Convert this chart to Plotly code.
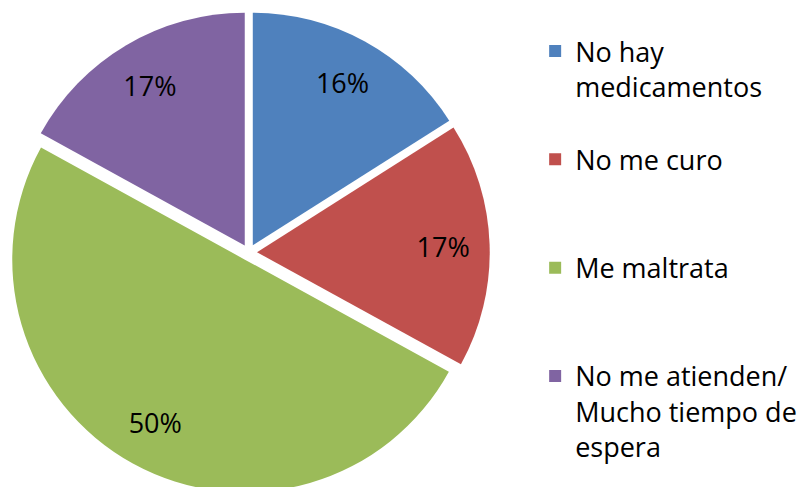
import plotly.graph_objects as go

# categories and values
labels = ["No hay<br>medicamentos", "No me curo", "Me maltrata",
          "No me atienden/<br>Mucho tiempo de<br>espera"]
values = [16, 17, 50, 17]
colors = ["#4F81BD", "#C0504D", "#9BBB59", "#8064A2"]

# pad legend entries to 3 lines so they get equal slots, like Excel does
legend_labels = []
for lab in labels:
    n = lab.count("<br>") + 1
    legend_labels.append(lab + "<br> " * (3 - n))

font = "'Open Sans', sans-serif"
dom = dict(x=[0.0, 0.594], y=[0, 1])
pulls = [0.035] * len(values)

# filled pie, no text
pie = go.Pie(
    labels=legend_labels,
    values=values,
    sort=False,
    direction="clockwise",
    rotation=0,
    pull=pulls,
    marker=dict(colors=colors, line=dict(width=0)),
    textinfo="none",
    domain=dom,
    hoverinfo="label+percent",
)

# transparent ring on top, only to put the % labels near the rim (Excel style)
ring = go.Pie(
    labels=legend_labels,
    values=values,
    sort=False,
    direction="clockwise",
    rotation=0,
    pull=pulls,
    hole=0.6,
    marker=dict(colors=["rgba(0,0,0,0)"] * len(values), line=dict(width=0)),
    texttemplate="%{percent:.0%}",
    textposition="inside",
    insidetextorientation="horizontal",
    textfont=dict(color="black", size=27, family=font),
    domain=dom,
    showlegend=False,
    hoverinfo="skip",
)

layout = go.Layout(
    width=811, height=487,
    margin=dict(l=0, r=0, t=2, b=0),
    paper_bgcolor="white",
    plot_bgcolor="white",
    font=dict(family=font, color="black"),
    showlegend=True,
    legend=dict(
        x=0.650, y=0.965, xanchor="left", yanchor="top",
        valign="top",
        font=dict(size=27, family=font, color="black"),
        bgcolor="rgba(0,0,0,0)",
    ),
)

fig = go.Figure(data=[pie, ring], layout=layout)
fig.write_html("out.html")
